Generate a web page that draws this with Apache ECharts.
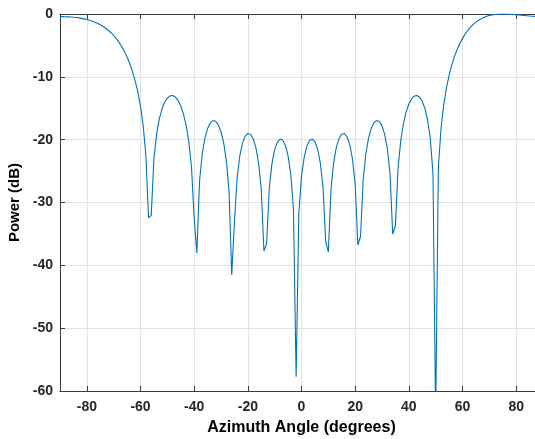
<!DOCTYPE html>
<html>
<head>
<meta charset="utf-8">
<script src="https://cdn.jsdelivr.net/npm/echarts@6/dist/echarts.min.js"></script>
<style>
  html, body { margin: 0; padding: 0; background: #ffffff; }
  #chart { width: 535px; height: 439px; }
</style>
</head>
<body>
<div id="chart"></div>
<script>
// Azimuth angles (degrees)
const angles = [
  -90,-89,-88,-87,-86,-85,-84,-83,-82,-81,-80,-79,-78,-77,-76,-75,-74,-73,-72,-71,
  -70,-69,-68,-67,-66,-65,-64,-63,-62,-61,-60,-59,-58,-57,-56,-55,-54,-53,-52,-51,
  -50,-49,-48,-47,-46,-45,-44,-43,-42,-41,-40,-39,-38,-37,-36,-35,-34,-33,-32,-31,
  -30,-29,-28,-27,-26,-25,-24,-23,-22,-21,-20,-19,-18,-17,-16,-15,-14,-13,-12,-11,
  -10,-9,-8,-7,-6,-5,-4,-3,-2,-1,0,1,2,3,4,5,6,7,8,9,
  10,11,12,13,14,15,16,17,18,19,20,21,22,23,24,25,26,27,28,29,
  30,31,32,33,34,35,36,37,38,39,40,41,42,43,44,45,46,47,48,49,
  50,51,52,53,54,55,56,57,58,59,60,61,62,63,64,65,66,67,68,69,
  70,71,72,73,74,75,76,77,78,79,80,81,82,83,84,85,86,87,88,89,90
];
// Power (dB)
const power = [
  -0.41,-0.42,-0.43,-0.45,-0.48,-0.51,-0.56,-0.62,-0.69,-0.77,-0.88,-1.00,-1.14,-1.30,-1.49,-1.71,-1.96,-2.26,-2.59,-2.98,
  -3.42,-3.93,-4.51,-5.18,-5.95,-6.85,-7.89,-9.12,-10.59,-12.40,-14.69,-17.77,-22.43,-32.44,-32.05,-23.08,-19.11,-16.70,-15.11,-14.04,
  -13.37,-13.03,-12.98,-13.22,-13.76,-14.63,-15.91,-17.71,-20.31,-24.36,-32.52,-38.02,-26.62,-22.24,-19.74,-18.21,-17.33,-16.96,-17.06,-17.64,
  -18.74,-20.52,-23.34,-28.19,-41.54,-33.22,-26.03,-22.58,-20.59,-19.47,-19.01,-19.13,-19.85,-21.28,-23.69,-27.88,-37.73,-36.51,-27.64,-23.77,
  -21.59,-20.39,-19.91,-20.08,-20.92,-22.58,-25.48,-30.96,-57.75,-31.76,-25.84,-22.78,-21.02,-20.12,-19.90,-20.33,-21.50,-23.64,-27.46,-36.17,
  -37.87,-27.83,-23.61,-21.20,-19.79,-19.10,-19.03,-19.58,-20.84,-23.08,-27.10,-36.76,-35.41,-26.31,-22.19,-19.73,-18.19,-17.30,-16.96,-17.11,
  -17.81,-19.16,-21.44,-25.45,-35.04,-33.66,-24.42,-20.11,-17.41,-15.58,-14.32,-13.51,-13.07,-12.98,-13.24,-13.90,-15.05,-16.87,-19.81,-25.38,
  -64.43,-24.44,-18.18,-14.46,-11.81,-9.77,-8.13,-6.78,-5.65,-4.69,-3.88,-3.18,-2.59,-2.09,-1.66,-1.30,-0.99,-0.74,-0.54,-0.37,
  -0.24,-0.15,-0.08,-0.03,-0.01,0,-0.01,-0.03,-0.05,-0.09,-0.13,-0.17,-0.21,-0.25,-0.29,-0.33,-0.36,-0.38,-0.40,-0.41,-0.41
];
const xRange = [-90, 90];
const yRange = [-60, 0];
const xTitle = 'Azimuth Angle (degrees)';
const yTitle = 'Power (dB)';

const seriesData = angles.map((a, i) => [a, power[i]]);

const axisColor = '#3a3a3a';
const gridColor = '#e3e3e3';
const labelFont = { color: '#262626', fontSize: 14, fontWeight: 'bold', fontFamily: 'Liberation Sans, Arial, sans-serif' };

const chart = echarts.init(document.getElementById('chart'), null, { renderer: 'canvas' });
chart.setOption({
  animation: false,
  backgroundColor: '#ffffff',
  grid: { left: 60, top: 14, right: -8, bottom: 48, containLabel: false, outerBoundsMode: 'none' },
  xAxis: [
    {
      type: 'value', min: xRange[0], max: xRange[1], splitNumber: 9, position: 'bottom',
      axisLine: { show: true, onZero: false, lineStyle: { color: axisColor, width: 1 } },
      axisTick: { show: true, inside: true, length: 5, lineStyle: { color: axisColor } },
      axisLabel: Object.assign({ margin: 9, showMinLabel: false, showMaxLabel: false }, labelFont),
      splitLine: { show: true, lineStyle: { color: gridColor, width: 1 } },
      name: xTitle, nameLocation: 'middle', nameGap: 29,
      nameTextStyle: { color: '#000000', fontSize: 16, fontWeight: 'bold', fontFamily: 'Liberation Sans, Arial, sans-serif' }
    },
    {
      type: 'value', min: xRange[0], max: xRange[1], splitNumber: 9, position: 'top',
      axisLine: { show: true, onZero: false, lineStyle: { color: axisColor, width: 1 } },
      axisTick: { show: true, inside: true, length: 5, lineStyle: { color: axisColor } },
      axisLabel: { show: false },
      splitLine: { show: false }
    }
  ],
  yAxis: [
    {
      type: 'value', min: yRange[0], max: yRange[1], interval: 10,
      axisLine: { show: true, onZero: false, lineStyle: { color: axisColor, width: 1 } },
      axisTick: { show: true, inside: true, length: 5, lineStyle: { color: axisColor } },
      axisLabel: Object.assign({ margin: 7 }, labelFont),
      splitLine: { show: true, lineStyle: { color: gridColor, width: 1 } },
      name: yTitle, nameLocation: 'middle', nameGap: 35,
      nameTextStyle: { color: '#000000', fontSize: 15, fontWeight: 'bold', fontFamily: 'Liberation Sans, Arial, sans-serif' }
    }
  ],
  series: [
    {
      type: 'line', xAxisIndex: 0, yAxisIndex: 0,
      data: seriesData, showSymbol: false, symbol: 'none', smooth: false, clip: true,
      lineStyle: { color: '#0072BD', width: 1.1 },
      itemStyle: { color: '#0072BD' }
    }
  ]
});
</script>
</body>
</html>
